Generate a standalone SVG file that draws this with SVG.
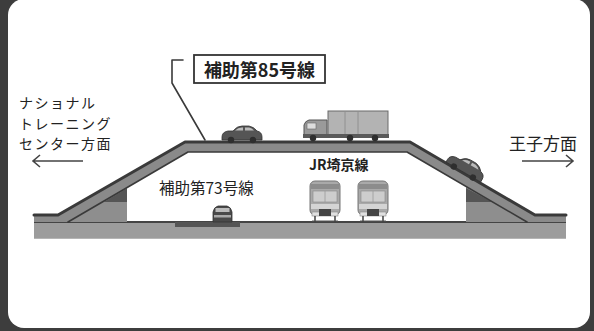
<svg xmlns="http://www.w3.org/2000/svg" width="594" height="331" viewBox="0 0 594 331">
  <style>
    .jp { font-family: "Noto Sans CJK JP", "Noto Sans", sans-serif; fill: #222; }
    .label { font-size: 14px; letter-spacing: 1.5px; }
    .bold { font-weight: bold; }
    .line { fill: none; stroke: #3a3a3a; stroke-linecap: round; stroke-linejoin: round; }
    .arrow { fill: none; stroke: #444; stroke-width: 1.6; }
  </style>
  <defs>
    <!-- front view of a commuter train -->
    <g id="train">
      <rect x="0" y="1" width="30" height="34" rx="5" fill="#a9a9a9" stroke="#777" stroke-width="1"/>
      <rect x="1" y="4" width="28" height="5" fill="#8c8c8c"/>
      <rect x="3" y="11" width="24" height="11" fill="#cdcdcd" stroke="#888" stroke-width="0.6"/>
      <line x1="15" y1="11" x2="15" y2="22" stroke="#999" stroke-width="0.8"/>
      <rect x="1" y="24" width="28" height="5" fill="#d4d4d4"/>
      <rect x="2" y="32" width="26" height="4" fill="#e0e0e0" stroke="#888" stroke-width="0.6"/>
      <rect x="9" y="29" width="12" height="7" fill="#444"/>
      <line x1="5" y1="36" x2="5" y2="42" stroke="#333" stroke-width="1.4"/>
      <line x1="25" y1="36" x2="25" y2="42" stroke="#333" stroke-width="1.4"/>
      <line x1="2" y1="41" x2="28" y2="41" stroke="#555" stroke-width="1"/>
    </g>
    <!-- side view of a car, origin at the wheel line -->
    <g id="car">
      <path d="M0,-3 Q0,-8 6,-9 L11,-9 Q15,-14 20,-14 L27,-14 Q32,-13 35,-9 Q40,-8 40,-3 L40,0 L0,0 Z" fill="#555" stroke="#333" stroke-width="0.8"/>
      <path d="M13,-9.5 Q16,-12.5 20,-12.5 L21,-12.5 L21,-9.5 Z" fill="#bbb"/>
      <path d="M23,-12.5 L27,-12.5 Q30,-12 32,-9.5 L23,-9.5 Z" fill="#bbb"/>
      <circle cx="9" cy="0" r="3.2" fill="#2e2e2e"/>
      <circle cx="31" cy="0" r="3.2" fill="#2e2e2e"/>
    </g>
  </defs>

  <!-- frame -->
  <rect x="0" y="0" width="594" height="331" fill="#3d3d3d"/>
  <rect x="8" y="-1" width="582" height="329" rx="16" fill="#fff"/>

  <!-- ground and under-road -->
  <g id="ground">
    <rect x="34" y="222" width="532" height="17" fill="#9c9c9c"/>
    <line x1="34" y1="238.5" x2="566" y2="238.5" stroke="#b5b5b5" stroke-width="1"/>
    <line x1="34" y1="222" x2="566" y2="222" stroke="#444" stroke-width="2"/>
    <rect x="175" y="222" width="65" height="5" fill="#555"/>
  </g>

  <!-- embankment under both ramps -->
  <g id="abutments">
    <polygon points="68,222 127,187.3 127,222" fill="#8e8e8e"/>
    <polygon points="104,202 127,188.5 127,202" fill="#555"/>
    <polygon points="466,186.4 527,222 466,222" fill="#8e8e8e"/>
    <polygon points="466,188 466,202 492,202" fill="#555"/>
  </g>

  <!-- overpass deck -->
  <g id="deck">
    <polygon points="34,215 58,215 185,142 410,142 535,215 566,215 566,222 527,222 407,152 188,152 68,222 34,222" fill="#8a8a8a"/>
    <path class="line" d="M34,215 L58,215 L185,142 L410,142 L535,215 L566,215" stroke-width="3"/>
    <path class="line" d="M68,222 L188,152 L407,152 L527,222" stroke-width="1.6"/>
  </g>

  <!-- vehicles -->
  <g id="vehicles">
    <use href="#car" transform="translate(222,140)"/>
    <use href="#car" transform="translate(446,162) rotate(30)"/>
    <!-- truck -->
    <g id="truck">
      <rect x="328" y="111" width="60" height="26" fill="#b3b3b3" stroke="#6a6a6a" stroke-width="1"/>
      <line x1="345" y1="112" x2="345" y2="136" stroke="#888" stroke-width="0.8"/>
      <line x1="358" y1="112" x2="358" y2="136" stroke="#888" stroke-width="0.8"/>
      <path d="M304,137 L304,125 Q305,121 309,120 L327,120 L327,137 Z" fill="#9a9a9a" stroke="#555" stroke-width="1"/>
      <rect x="307" y="123" width="9" height="6" fill="#ddd" stroke="#666" stroke-width="0.6"/>
      <rect x="303" y="134" width="86" height="4" fill="#5a5a5a"/>
      <circle cx="313" cy="138" r="3.2" fill="#2e2e2e"/>
      <circle cx="350" cy="138" r="3.2" fill="#2e2e2e"/>
      <circle cx="375" cy="138" r="3.2" fill="#2e2e2e"/>
    </g>
    <!-- car on road 73 (front view) -->
    <g id="car-front">
      <path d="M213,222 L213,212 Q214,207 218,206 L227,206 Q231,207 232,212 L232,222 Z" fill="#4a4a4a" stroke="#333" stroke-width="0.8"/>
      <rect x="215.5" y="208" width="14" height="4" fill="#bcbcbc"/>
      <rect x="214" y="215" width="17" height="2.5" fill="#aaa"/>
    </g>
    <use href="#train" transform="translate(310,180)"/>
    <use href="#train" transform="translate(358,180)"/>
  </g>

  <!-- labels -->
  <g id="label-85">
    <rect x="194" y="55" width="131" height="28" fill="#fff" stroke="#333" stroke-width="1.8"/>
    <text class="jp bold" x="259.5" y="76.5" font-size="18" text-anchor="middle">補助第85号線</text>
  </g>
  <g id="connectors">
    <path class="line" d="M183,60 L172,60 L172,83 L205,140" stroke-width="1.6"/>
    <!-- direction arrows -->
    <path class="arrow" d="M83,161 L33,161 M40,155 L33,161 L40,167"/>
    <path class="arrow" d="M522,161 L573,161 M566,155 L573,161 L566,167"/>
  </g>
  <g id="label-west">
    <text class="jp label" x="19" y="108">ナショナル</text>
    <text class="jp label" x="19" y="128.5">トレーニング</text>
    <text class="jp label" x="19" y="149">センター方面</text>
  </g>
  <g id="label-east">
    <text class="jp" x="509" y="150" font-size="17">王子方面</text>
  </g>
  <g id="label-73">
    <text class="jp" x="159" y="193.5" font-size="15.5">補助第73号線</text>
  </g>
  <g id="label-jr">
    <text class="jp bold" x="309" y="170" font-size="14">JR埼京線</text>
  </g>
</svg>
